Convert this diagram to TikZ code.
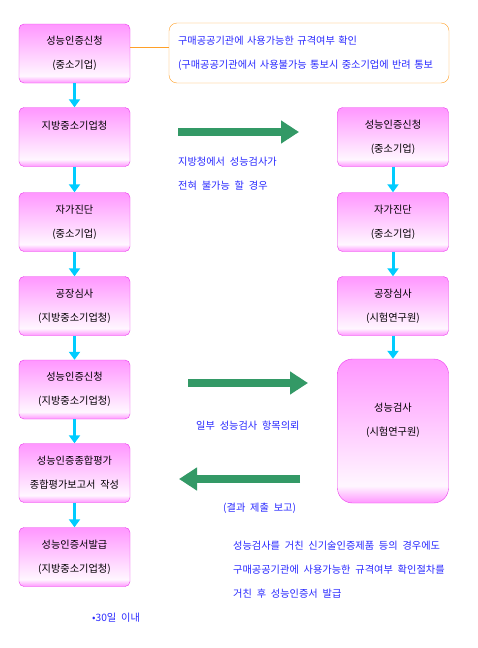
\documentclass[tikz,border=0pt]{standalone}
\usepackage{fontspec}
\setmainfont[WordSpace=2.1]{Noto Sans CJK KR}
\usepackage{tikz}
\usetikzlibrary{arrows.meta,positioning}
\definecolor{boxpink}{RGB}{255,150,255}
\definecolor{boxline}{RGB}{235,60,235}
\definecolor{noteline}{RGB}{255,160,40}
\definecolor{downcyan}{RGB}{0,204,255}
\definecolor{biggreen}{RGB}{51,153,102}
\definecolor{txtblue}{RGB}{40,40,255}
\pgfdeclareverticalshading{boxfade}{100bp}{color(0bp)=(boxpink); color(25bp)=(boxpink);
  color(31bp)=(white!92!boxpink); color(75bp)=(boxpink); color(100bp)=(boxpink)}
\tikzset{
  stepbox/.style={draw=boxline,rounded corners=5pt,shading=boxfade,minimum width=111pt,
    minimum height=59pt,inner sep=0pt,align=center,font=\fontsize{10.2}{24}\selectfont},
  tallbox/.style={stepbox,rounded corners=15pt,minimum height=144pt},
  note/.style ={draw=noteline,rounded corners=8pt,text=txtblue,align=left,text width=262pt,
    inner xsep=9pt,minimum height=60pt,font=\fontsize{10.2}{24}\selectfont},
  dn/.style   ={draw=downcyan,line width=3pt,-{Triangle[length=8pt,width=11pt]}},
  big/.style  ={draw=biggreen,line width=8pt,-{Triangle[length=18pt,width=22pt]}},
  lbl/.style  ={text=txtblue,anchor=west,inner sep=0pt,align=left,font=\fontsize{10.2}{24}\selectfont},
}
\begin{document}
\begin{tikzpicture}[x=1pt,y=-1pt]
  \useasboundingbox (0,0) rectangle (478,648);
  % left column
  \node[stepbox] (apply)  at (74.5,53.5){성능인증신청\\(중소기업)};
  \node[stepbox] (office) at (74.5,137){지방중소기업청\\~};
  \node[stepbox] (self)   at (74.5,222){자가진단\\(중소기업)};
  \node[stepbox] (audit)  at (74.5,306){공장심사\\(지방중소기업청)};
  \node[stepbox] (apply2) at (74.5,389.5){성능인증신청\\(지방중소기업청)};
  \node[stepbox] (eval)   at (74.5,473){성능인증종합평가\\종합평가보고서 작성};
  \node[stepbox] (issue)  at (74.5,557){성능인증서발급\\(지방중소기업청)};
  \foreach \a/\b in {apply/office,office/self,self/audit,audit/apply2,apply2/eval,eval/issue}
    \draw[dn] (\a) -- (\b);
  % right column
  \node[stepbox] (rapply) at (393,137){성능인증신청\\(중소기업)};
  \node[stepbox] (rself)  at (393,222){자가진단\\(중소기업)};
  \node[stepbox] (raudit) at (393,306){공장심사\\(시험연구원)};
  \node[tallbox] (test)   at (393,431){성능검사\\(시험연구원)\\~};
  \foreach \a/\b in {rapply/rself,rself/raudit,raudit/test}
    \draw[dn] (\a) -- (\b);
  % note
  \node[note] (chk) at (309,53){구매공공기관에 사용가능한 규격여부 확인\\(구매공공기관에서 사용불가능 통보시 중소기업에 반려 통보};
  \draw[noteline] (apply.east |- 0,47) -- (chk.west |- 0,47);
  % block arrows
  \coordinate (g1s) at (178,132); \coordinate (g1e) at (299,132);
  \coordinate (g2s) at (188,383); \coordinate (g2e) at (308,383);
  \coordinate (g3s) at (300,479); \coordinate (g3e) at (179,479);
  \draw[big] (g1s) -- (g1e);
  \draw[big] (g2s) -- (g2e);
  \draw[big] (g3s) -- (g3e);
  % labels
  \node[lbl] (why)  at (178,173.5){지방청에서 성능검사가\\전혀 불가능 할 경우};
  \node[lbl] (part) at (196,426){일부 성능검사 항목의뢰};
  \node[lbl] (back) at (223,508){(결과 제출 보고)};
  \node[lbl] (rule) at (233,570){성능검사를 거친 신기술인증제품 등의 경우에도\\구매공공기관에 사용가능한 규격여부 확인절차를\\거친 후 성능인증서 발급};
  \node[lbl] (days) at (92,618){•30일 이내};
\end{tikzpicture}
\end{document}
